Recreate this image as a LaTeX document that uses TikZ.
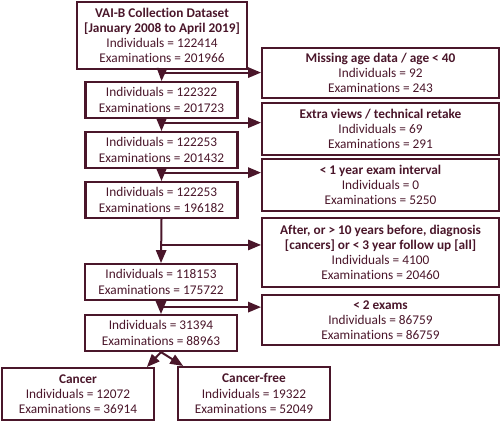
\documentclass[tikz,border=0pt]{standalone}
\usepackage{fontspec}
\setmainfont[Ligatures=NoCommon]{Carlito}
\usepackage{tikz}
\usetikzlibrary{arrows,calc}
\definecolor{maroon}{RGB}{74,22,42}
\tikzset{
  flownode/.style = {align=center, inner sep=0pt, text centered,
    draw=maroon, text=maroon, line width=2.2pt,
    font=\fontsize{13.3}{15.2}\selectfont},
  box_main/.style = {flownode, rectangle, minimum width=152pt,
    minimum height=36pt},% boite principale
  box_excl/.style = {flownode, rectangle, minimum width=237pt},% boite exclus
  box_leaf/.style = {flownode, rectangle, minimum width=152pt,
    minimum height=52pt},% boite finale
  flow/.style = {draw=maroon, line width=2pt, -triangle 45}
}
\begin{document}
\begin{tikzpicture}[x=1pt, y=-1pt]
  \useasboundingbox (0,0) rectangle (500,422);
  % main column
  \node [box_main, minimum width=170pt, minimum height=67pt] (b1) at (162,35.5)
    {\textbf{VAI-B Collection Dataset}\\ \textbf{[January 2008 to April 2019]}\\
     Individuals = 122414\\ Examinations = 201966};
  \node [box_main] (b2) at (161.5,100) {Individuals = 122322\\ Examinations = 201723};
  \node [box_main] (b3) at (161.5,150) {Individuals = 122253\\ Examinations = 201432};
  \node [box_main] (b4) at (161.5,200) {Individuals = 122253\\ Examinations = 196182};
  \node [box_main] (b5) at (161,282) {Individuals = 118153\\ Examinations = 175722};
  \node [box_main] (b6) at (161,333) {Individuals = 31394\\ Examinations = 88963};
  \node [box_leaf] (cancer) at (78,394)
    {\textbf{Cancer}\\ Individuals = 12072\\ Examinations = 36914};
  \node [box_leaf, minimum height=53pt] (free) at (254,393.5)
    {\textbf{Cancer-free}\\ Individuals = 19322\\ Examinations = 52049};
  % exclusions
  \node [box_excl, minimum height=50pt] (r1) at (380.5,73)
    {\textbf{Missing age data / age < 40}\\ Individuals = 92\\ Examinations = 243};
  \node [box_excl, minimum height=52pt] (r2) at (380.5,129)
    {\textbf{Extra views / technical retake}\\ Individuals = 69\\ Examinations = 291};
  \node [box_excl, minimum height=52pt] (r3) at (380.5,185)
    {\textbf{< 1 year exam interval}\\ Individuals = 0\\ Examinations = 5250};
  \node [box_excl, minimum height=69pt] (r4) at (380.5,252.5)
    {\textbf{After, or > 10 years before, diagnosis}\\
     \textbf{[cancers] or < 3 year follow up [all]}\\
     Individuals = 4100\\ Examinations = 20460};
  \node [box_excl, minimum height=50pt] (r5) at (380.5,320)
    {\textbf{< 2 exams}\\ Individuals = 86759\\ Examinations = 86759};
  % junctions on the trunk
  \coordinate (j1) at ($(b1.south)!0.23!(b2.north)$);
  \coordinate (j2) at ($(b2.south)!0.3!(b3.north)$);
  \coordinate (j3) at ($(b3.south)!0.3!(b4.north)$);
  \coordinate (j4) at ($(b4.south)!0.59!(b5.north)$);
  \coordinate (j5) at ($(b5.south)!0.47!(b6.north)$);
  \draw [flow] (b1.south) -- (b2.north);
  \draw [flow] (b2.south) -- (b3.north);
  \draw [flow] (b3.south) -- (b4.north);
  \draw [flow] (b4.south) -- (b5.north);
  \draw [flow] (b5.south) -- (b6.north);
  \draw [flow] (j1) -- (j1 -| r1.west);
  \draw [flow] (j2) -- (j2 -| r2.west);
  \draw [flow] (j3) -- (j3 -| r3.west);
  \draw [flow] (j4) -- (j4 -| r4.west);
  \draw [flow] (j5) -- (j5 -| r5.west);
  \draw [flow] (b6.south) -- ($(cancer.north)+(69,0)$);
  \draw [flow] (b6.south) -- ($(free.north)+(-71,0)$);
\end{tikzpicture}
\end{document}
